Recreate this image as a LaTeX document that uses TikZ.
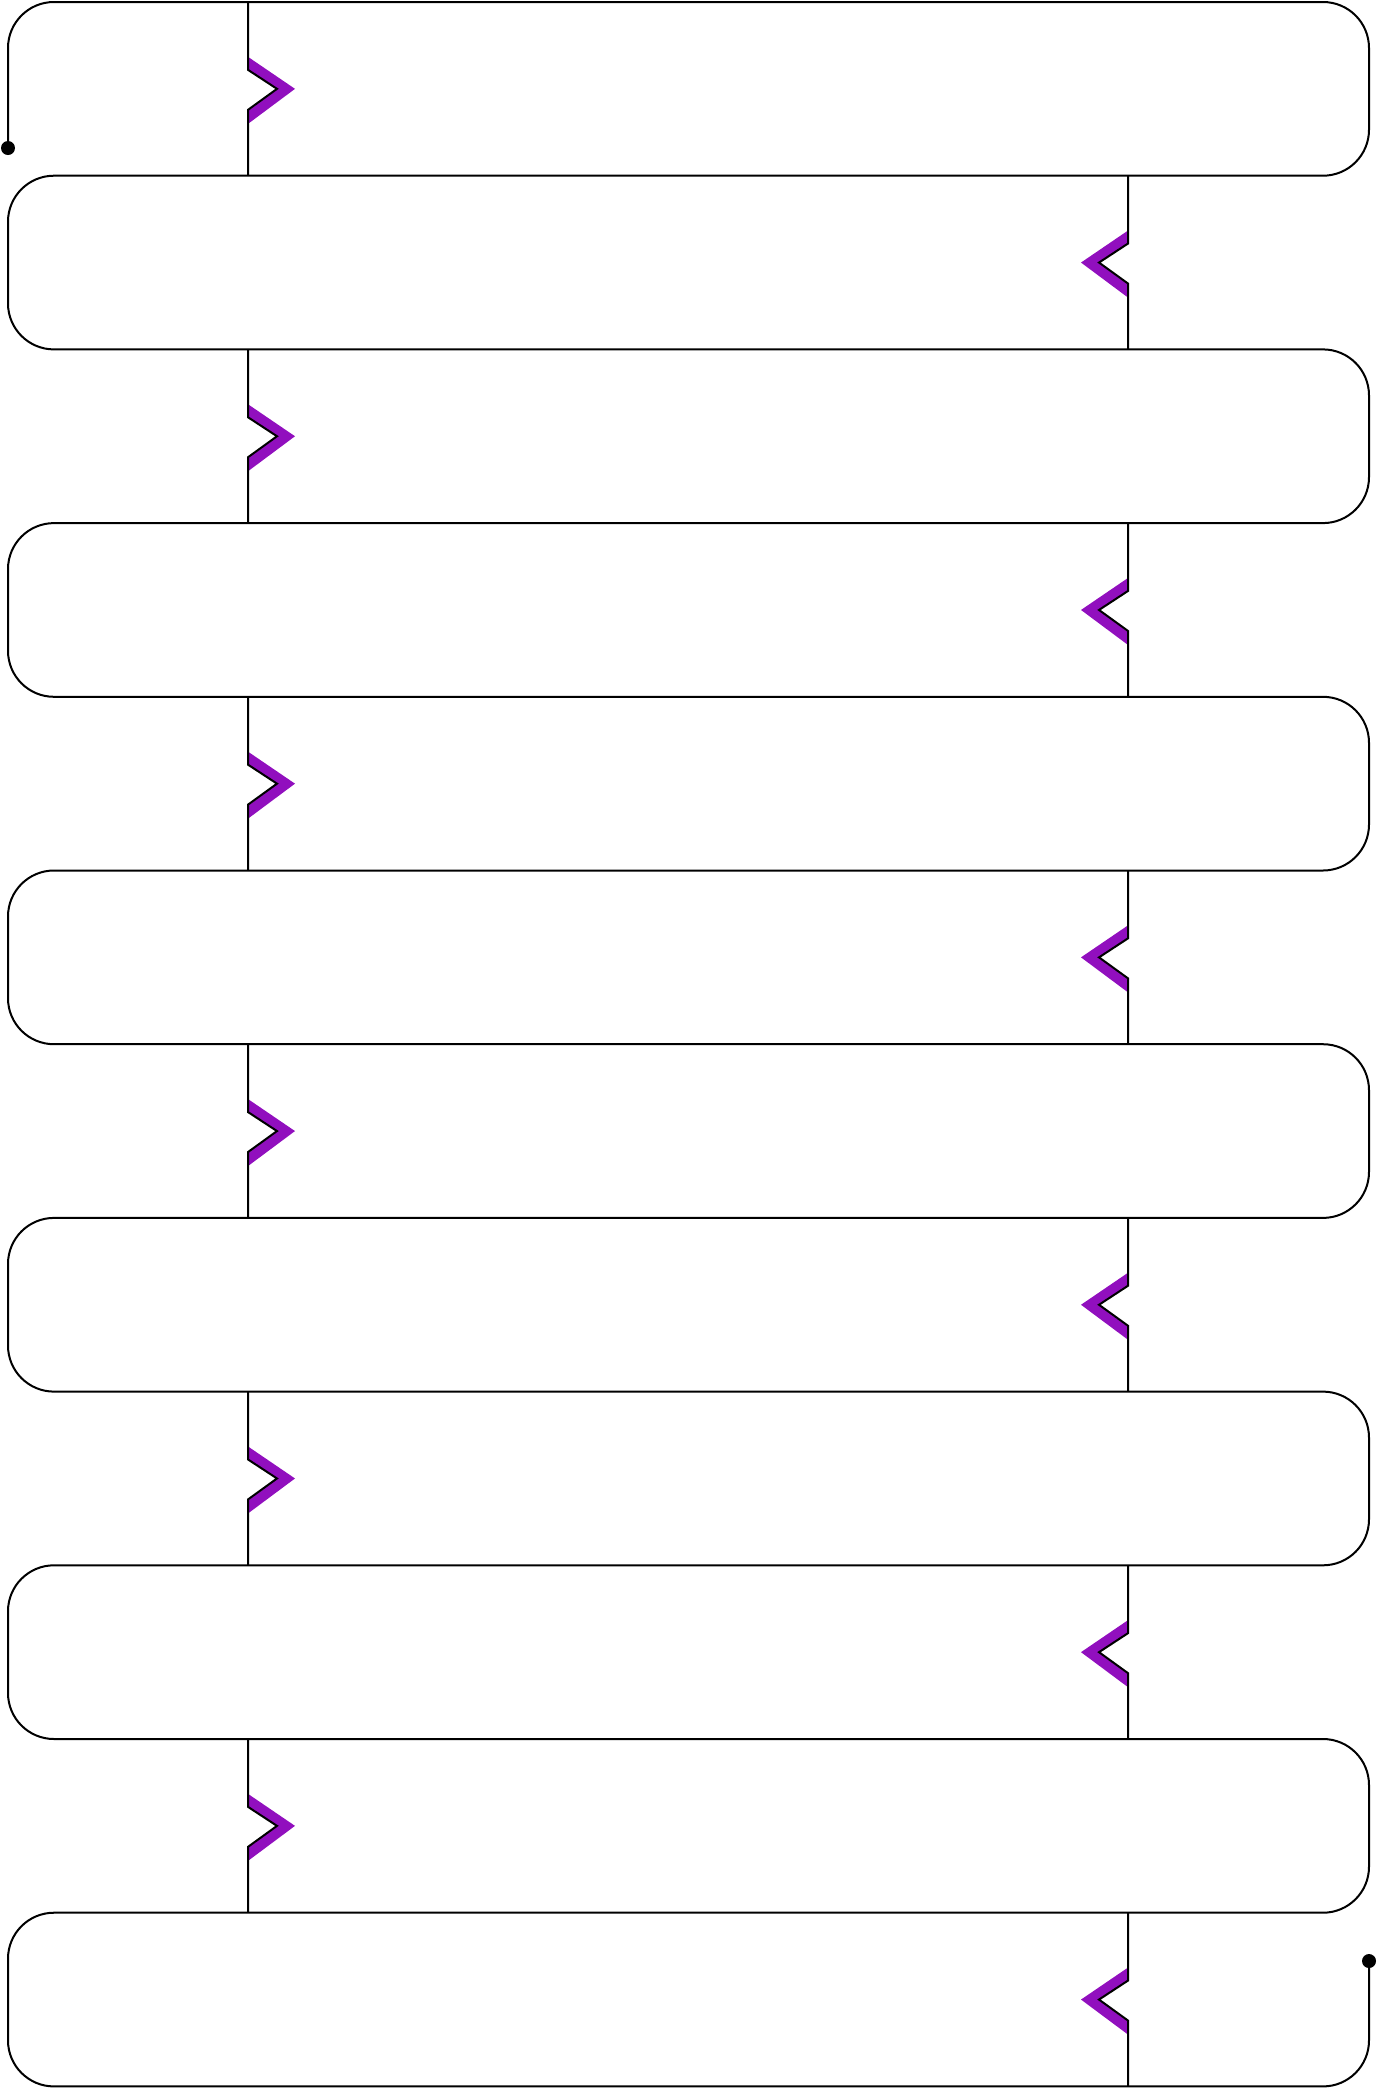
\documentclass[tikz,border=0pt]{standalone}
\definecolor{chev}{RGB}{145,15,190}
\tikzset{
  wire/.style={draw=black, line width=1pt, line join=miter},
  track/.style={wire, rounded corners=23pt},
  band/.style={fill=chev, draw=none},
  terminal/.style={fill=black}
}
\begin{document}
\begin{tikzpicture}[x=0.5pt,y=-0.5pt]
\useasboundingbox (0,0) rectangle (1377,2089);
\coordinate (start) at (8,148);
\coordinate (finish) at (1369,1961);
% meander track
\draw[track] (start) -- (8,2) -- (1369,2) -- (1369,175.7) -- (8,175.7) -- (8,349.4) -- (1369,349.4) -- (1369,523.1) -- (8,523.1) -- (8,696.8) -- (1369,696.8) -- (1369,870.5) -- (8,870.5) -- (8,1044.2) -- (1369,1044.2) -- (1369,1217.9) -- (8,1217.9) -- (8,1391.6) -- (1369,1391.6) -- (1369,1565.3) -- (8,1565.3) -- (8,1739) -- (1369,1739) -- (1369,1912.7) -- (8,1912.7) -- (8,2086.4) -- (1369,2086.4) -- (finish);
% rungs with chevrons
\foreach \k in {1,...,12}{
  \pgfmathsetmacro{\yt}{2+173.7*(\k-1)}
  \pgfmathsetmacro{\yb}{2+173.7*\k}
  \pgfmathsetmacro{\ym}{(\yt+\yb)/2}
  \pgfmathsetmacro{\xr}{isodd(\k) ? 248 : 1128}
  \pgfmathsetmacro{\dd}{isodd(\k) ? 1 : -1}
  \fill[band] (\xr,\ym-32) -- (\xr+\dd*47,\ym) -- (\xr,\ym+35) -- (\xr,\ym+22) -- (\xr+\dd*30,\ym) -- (\xr,\ym-19) -- cycle;
  \draw[wire] (\xr,\yt) -- (\xr,\ym-19) -- (\xr+\dd*29,\ym) -- (\xr,\ym+21) -- (\xr,\yb);
}
\fill[terminal] (start) circle[radius=3.5pt];
\fill[terminal] (finish) circle[radius=3.5pt];
\end{tikzpicture}
\end{document}
